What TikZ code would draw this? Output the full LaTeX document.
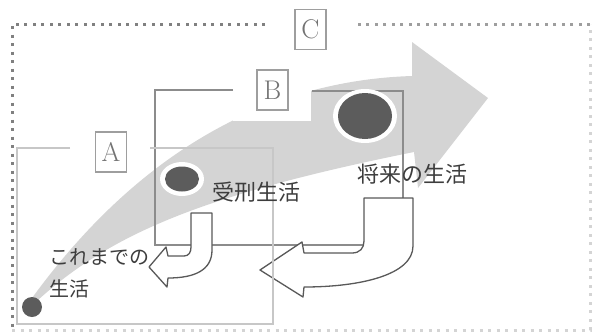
\documentclass[tikz,border=0pt]{standalone}
\usepackage{fontspec}
\newfontfamily\jp{Noto Sans CJK JP}
\definecolor{bandc}{gray}{0.83}
\definecolor{dotdark}{gray}{0.5}
\definecolor{dotmid}{gray}{0.62}
\definecolor{dotlight}{gray}{0.83}
\definecolor{boxbc}{gray}{0.55}
\definecolor{boxac}{gray}{0.78}
\definecolor{txtc}{gray}{0.24}
\definecolor{arrc}{gray}{0.35}
\definecolor{lblc}{gray}{0.45}
\definecolor{lblframe}{gray}{0.62}
\definecolor{dotfill}{gray}{0.36}
\tikzset{
  cborder/.style={line width=3pt, dash pattern=on 3pt off 5.5pt},
  abox/.style={draw=boxac, line width=2.2pt},
  bbox/.style={draw=boxbc, line width=1.8pt},
  hookarrow/.style={draw=arrc, fill=white, line width=1.3pt, line join=round},
  lblbox/.style={draw=lblframe, fill=white, line width=1.3pt, minimum width=31pt,
    minimum height=40pt, inner sep=0pt, text=lblc, font=\fontsize{27}{27}\selectfont},
  jtxt/.style={inner sep=0pt, anchor=west, text=txtc},
  bigj/.style={jtxt, font=\jp\fontsize{22}{22}\selectfont},
  smallj/.style={jtxt, font=\jp\fontsize{20}{20}\selectfont},
  darkdot/.style={fill=dotfill, draw=none},
  ring/.style={fill=white, draw=none}
}
\begin{document}
\begin{tikzpicture}[x=1pt,y=-1pt]
\useasboundingbox (0,0) rectangle (594,333);
% C dotted border
\draw[cborder, draw=dotlight] (12,330) -- (590,330) -- (590,24);
\draw[cborder, draw=dotmid] (590,24) -- (357,24);
\draw[cborder, draw=dotdark] (265,24) -- (12,24) -- (12,330);
% gray band arrow
\fill[bandc] (32,298) .. controls (100,205) and (220,82) .. (412,76)
  -- (412,42) -- (488,98) -- (418,188) -- (414,152)
  .. controls (200,195) and (110,235) .. (38,300) -- cycle;
% white cover behind the B label gap
\fill[white] (233,60) rectangle (311,121);
% B box
\draw[bbox] (233,90) -- (155,90) -- (155,245) -- (403,245) -- (403,91) -- (312,91);
% dots
\fill[ring] (365,116) ellipse [x radius=32, y radius=27];
\fill[darkdot] (365,116) ellipse [x radius=27, y radius=23];
\fill[ring] (182,179) ellipse [x radius=22, y radius=17];
\fill[darkdot] (182,179) ellipse [x radius=17, y radius=12.5];
\fill[darkdot] (32,307) ellipse [x radius=10, y radius=10];
% hook arrows
\draw[hookarrow] (364,198) -- (413,198) -- (413,246)
  .. controls (413,275) and (360,287) .. (304,287) -- (303,297) -- (260,270)
  -- (302,242) -- (304,253) -- (352,253)
  .. controls (360,253) and (364,248) .. (364,241) -- cycle;
\draw[hookarrow] (191,213) -- (212,213) -- (212,250)
  .. controls (212,270) and (195,278) .. (168,278) -- (167,287) -- (149,267)
  -- (166,247) -- (168,256) -- (184,256)
  .. controls (189,256) and (191,252) .. (191,247) -- cycle;
% A box
\draw[abox] (70,148) -- (17,148) -- (17,324) -- (273,324) -- (273,148) -- (150,148);
% labels
\node[lblbox] (labA) at (111,152) {A};
\node[lblbox] (labB) at (272.5,90) {B};
\node[lblbox] (labC) at (310.5,29.5) {C};
% texts
\node[bigj] (jukei) at (212,192) {受刑生活};
\node[bigj] (shorai) at (357,174) {将来の生活};
\node[smallj] (koremade) at (49,257) {これまでの};
\node[smallj] (seikatsu) at (49,289) {生活};
\end{tikzpicture}
\end{document}
